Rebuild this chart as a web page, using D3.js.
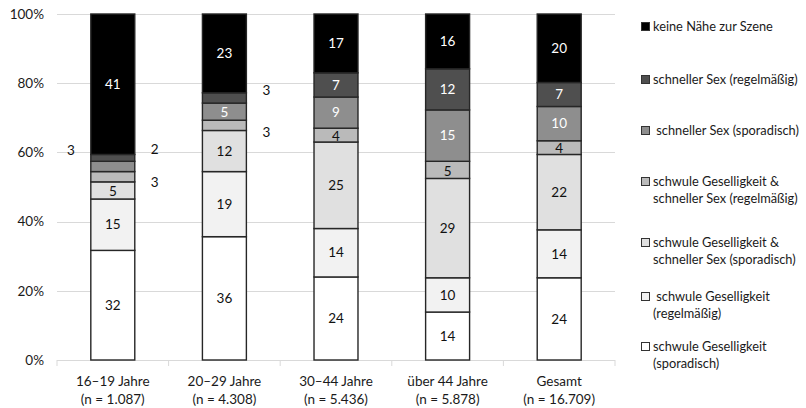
<!DOCTYPE html>
<html><head><meta charset="utf-8">
<script src="https://cdn.jsdelivr.net/npm/d3@7"></script>
<style>body{margin:0;background:#fff}svg{display:block;font-family:Lato,"Open Sans",sans-serif}</style>
</head><body><svg id="c" width="806" height="408"></svg>
<script>
const categories = ["16–19 Jahre","20–29 Jahre","30–44 Jahre","über 44 Jahre","Gesamt"];
const sampleSizes = ["(n = 1.087)","(n = 4.308)","(n = 5.436)","(n = 5.878)","(n = 16.709)"];
const seriesNames = [
  "schwule Geselligkeit (sporadisch)",
  "schwule Geselligkeit (regelmäßig)",
  "schwule Geselligkeit & schneller Sex (sporadisch)",
  "schwule Geselligkeit & schneller Sex (regelmäßig)",
  "schneller Sex (sporadisch)",
  "schneller Sex (regelmäßig)",
  "keine Nähe zur Szene"
];
const legendLines = [
  ["schwule Geselligkeit","(sporadisch)"],
  [" schwule Geselligkeit","(regelmäßig)"],
  ["schwule Geselligkeit &","schneller Sex (sporadisch)"],
  ["schwule Geselligkeit &","schneller Sex (regelmäßig)"],
  [" schneller Sex (sporadisch)"],
  ["schneller Sex (regelmäßig)"],
  ["keine Nähe zur Szene"]
];
const gesSporadisch  = [32, 36, 24, 14, 24];
const gesRegelmaessig = [15, 19, 14, 10, 14];
const gsSporadisch   = [5, 12, 25, 29, 22];
const gsRegelmaessig = [3, 3, 4, 5, 4];
const sexSporadisch  = [3, 5, 9, 15, 10];
const sexRegelmaessig = [2, 3, 7, 12, 7];
const keineNaehe     = [41, 23, 17, 16, 20];
const yTicks = [0, 0.2, 0.4, 0.6, 0.8, 1];

const seriesValues = [gesSporadisch, gesRegelmaessig, gsSporadisch, gsRegelmaessig, sexSporadisch, sexRegelmaessig, keineNaehe];
const colors = ["#ffffff","#f2f2f2","#e0e0e0","#bababa","#8e8e8e","#4f4f4f","#000000"];
const textColors = ["#111","#111","#111","#111","#fff","#fff","#fff"];

const rows = categories.map((c,i)=>{const r={cat:c}; seriesNames.forEach((s,j)=>r[s]=seriesValues[j][i]); return r;});
const stack = d3.stack().keys(seriesNames).offset(d3.stackOffsetExpand)(rows);

const svg = d3.select("#c");
const x = d3.scaleBand().domain(categories).range([57,615]).paddingInner(0.606).paddingOuter(0.303);
const y = d3.scaleLinear().domain([0,1]).range([360,14]);

svg.append("g").selectAll("line").data(yTicks).join("line")
  .attr("x1",57).attr("x2",615).attr("y1",d=>Math.round(y(d))+0.5).attr("y2",d=>Math.round(y(d))+0.5)
  .attr("stroke","#d9d9d9").attr("stroke-width",1);
const step = x.step();
svg.append("g").selectAll("line").data(d3.range(categories.length+1)).join("line")
  .attr("x1",i=>57+i*step).attr("x2",i=>57+i*step).attr("y1",360).attr("y2",366)
  .attr("stroke","#d9d9d9");
svg.append("g").selectAll("text").data(yTicks).join("text")
  .attr("x",44).attr("y",d=>y(d)).attr("dy","0.35em").attr("text-anchor","end")
  .attr("font-size",13.5).attr("fill","#1a1a1a").text(d3.format(".0%"));
const xl = svg.append("g").selectAll("text").data(categories).join("text")
  .attr("text-anchor","middle").attr("font-size",13.5).attr("fill","#1a1a1a")
  .attr("x",d=>x(d)+x.bandwidth()/2);
xl.append("tspan").attr("y",381).attr("dy","0.35em").text(d=>d);
xl.append("tspan").attr("x",d=>x(d)+x.bandwidth()/2).attr("y",399).attr("dy","0.35em").text((d,i)=>sampleSizes[i]);

stack.forEach((layer,j)=>{
  svg.append("g").selectAll("rect").data(layer).join("rect")
    .attr("x",d=>x(d.data.cat)).attr("width",x.bandwidth())
    .attr("y",d=>y(d[1])).attr("height",d=>y(d[0])-y(d[1]))
    .attr("fill",colors[j]).attr("stroke","#262626").attr("stroke-width",1.4);
});
const extOffsets = { // "bar-series" : [side, dy]
  "0-4":[-1,-16], "0-5":[1,-9], "0-3":[1,6], "1-5":[1,-8], "1-3":[1,7]
};
stack.forEach((layer,j)=>{
  layer.forEach((d,i)=>{
    const v = seriesValues[j][i];
    const cx = x(d.data.cat)+x.bandwidth()/2, cy=(y(d[0])+y(d[1]))/2;
    const key = i+"-"+j;
    if (extOffsets[key]) {
      const [side,dy] = extOffsets[key];
      svg.append("text").attr("x",cx+side*(x.bandwidth()/2+20)).attr("y",cy+dy).attr("dy","0.35em")
        .attr("text-anchor","middle").attr("font-size",13.5).attr("fill","#111").text(v);
    } else {
      svg.append("text").attr("x",cx).attr("y",cy+(v<=5?1:0)).attr("dy","0.35em")
        .attr("text-anchor","middle").attr("font-size",13.5).attr("fill",textColors[j]).text(v);
    }
  });
});

const legendY = [347, 297, 243, 182, 131, 80, 27];
seriesNames.forEach((s,j)=>{
  const g = svg.append("g");
  g.append("rect").attr("x",641.5).attr("y",legendY[j]-4.5).attr("width",8).attr("height",8)
    .attr("fill",colors[j]).attr("stroke","#333").attr("stroke-width",1);
  legendLines[j].forEach((t,k)=>{
    g.append("text").attr("x",653).attr("y",legendY[j]+k*17).attr("dy","0.35em")
      .attr("font-size",12.8).attr("fill","#1a1a1a").style("white-space","pre").text(t);
  });
});
</script></body></html>
